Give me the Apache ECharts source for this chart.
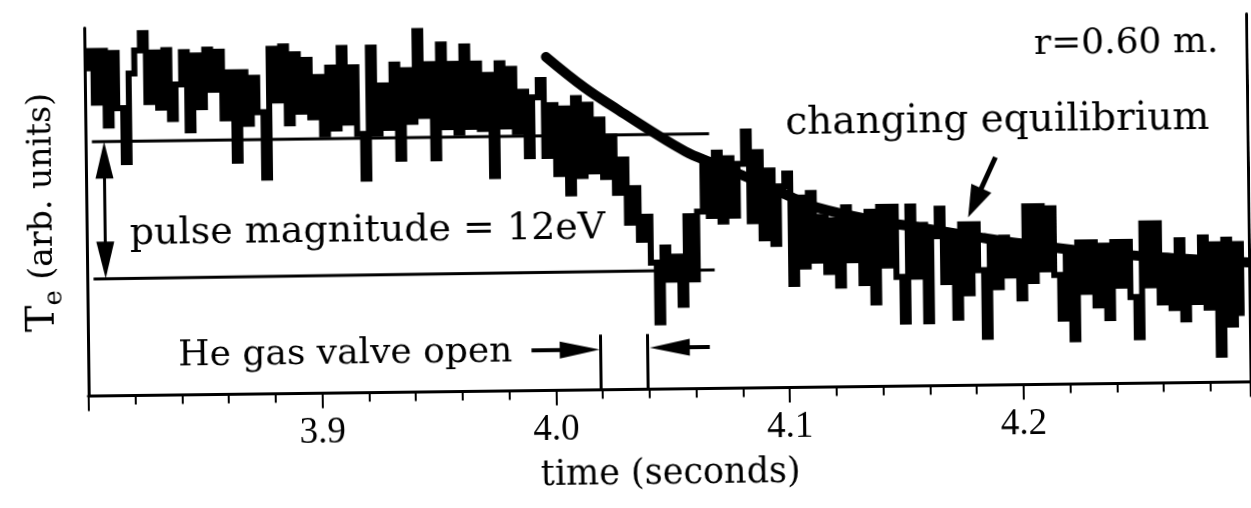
<!DOCTYPE html>
<html>
<head>
<meta charset="utf-8">
<title>Te pulse</title>
<script src="https://cdn.jsdelivr.net/npm/echarts@6/dist/echarts.min.js"></script>
<style>
  html, body { margin: 0; padding: 0; background: #fff; overflow: hidden; }
  /* the scan is tilted a little, so is the chart */
  #chart { width: 1251px; height: 508px; transform: rotate(-0.7deg); transform-origin: 625.5px 254px; }
</style>
</head>
<body>
<div id="chart"></div>
<script>
// sampling of the Te trace (s)
const T_START = 3.8
const T_STEP = 0.0025

// Te trace, one value per sample (eV, arb. offset)
const teTrace = [
  28.5, 30.0, 25.5, 30.0, 23.5, 29.8, 25.0, 20.3, 28.0, 30.0, 31.5, 25.5, 29.8, 25.0, 30.0, 24.0, 27.0, 29.8, 23.0, 29.5,
  25.0, 30.0, 26.5, 29.8, 24.0, 28.0, 20.3, 28.0, 23.5, 27.5, 24.5, 18.8, 30.0, 25.5, 30.2, 23.5, 29.5, 24.5, 29.0, 24.0,
  27.5, 22.5, 28.3, 23.0, 30.0, 23.5, 28.3, 22.5, 18.6, 30.0, 22.5, 26.7, 23.0, 28.5, 20.3, 28.0, 23.5, 31.4, 24.0, 28.5,
  20.3, 30.2, 23.0, 28.5, 22.5, 30.0, 23.0, 28.5, 22.8, 27.5, 18.7, 28.5, 23.0, 28.0, 22.5, 26.0, 20.4, 25.5, 27.0, 20.4,
  24.8, 18.8, 24.5, 17.1, 25.4, 18.6, 24.8, 19.0, 23.5, 18.5, 22.0, 17.1, 20.0, 14.5, 17.5, 13.0, 15.0, 11.0, 5.8, 12.3,
  9.5, 11.5, 7.3, 15.0, 9.5, 15.4, 19.5, 15.0, 20.5, 14.5, 20.0, 15.0, 19.5, 22.3, 14.5, 20.5, 13.0, 18.9, 12.5, 17.5,
  18.6, 9.0, 16.5, 10.5, 16.9, 11.0, 14.8, 10.0, 14.5, 8.8, 15.6, 11.0, 14.5, 9.0, 15.2, 7.3, 15.6, 10.5, 15.6, 9.5,
  5.6, 15.6, 9.5, 14.0, 5.6, 13.0, 15.4, 9.0, 13.0, 5.9, 14.0, 8.0, 14.0, 10.0, 4.2, 12.5, 8.5, 12.8, 9.5, 12.0,
  7.5, 15.5, 9.0, 15.5, 10.0, 15.3, 9.5, 5.7, 11.4, 3.9, 12.3, 8.0, 12.3, 6.8, 12.0, 5.7, 12.3, 8.5, 12.3, 7.5,
  4.0, 13.9, 8.5, 13.9, 7.0, 10.9, 6.5, 12.4, 5.5, 10.5, 7.0, 12.6, 6.5, 12.0, 2.4, 12.4, 5.0, 12.0, 6.0
]

// "changing equilibrium" curve
const fitTime = [3.9974, 4.0137, 4.0282, 4.0424, 4.0565, 4.0668, 4.0831, 4.0980, 4.1130, 4.1408, 4.1558, 4.1836, 4.1986, 4.2328, 4.2670, 4.2966]
const fitTe = [29.0, 26.3, 24.3, 22.4, 20.65, 19.7, 18.3, 16.9, 15.6, 14.3, 13.8, 12.8, 12.3, 11.4, 10.8, 10.4]

// annotation segments [t1, te1, t2, te2]
const guideLines = [
  [3.8027, 22.1, 4.0668, 22.15],   // level before the pulse
  [3.8027, 10.17, 4.0685, 10.3],   // bottom of the pulse
  [4.0193, 4.8, 4.0193, 0],        // valve open
  [4.0394, 4.8, 4.0394, 0]         // valve closed
]
const pulseArrow = [[3.8079, 10.2, 3.8079, 22.1]]
const valveArrows = [
  [3.9897, 3.5, 4.0189, 3.5],
  [4.0660, 3.6, 4.0403, 3.6]
]
const equilibriumArrow = [[4.1892, 19.8, 4.1772, 14.6]]

const tickLabels = ['3.9', '4.0', '4.1', '4.2']

const FONT = 'DejaVu Serif'
const TICK_FONT = 'Liberation Serif'
const INK = '#000'

const traceData = teTrace.map((v, i) => [T_START + i * T_STEP, v])
const fitData = fitTime.map((t, i) => [t, fitTe[i]])

function arrowSeries(data, opt) {
  return {
    type: 'custom',
    coordinateSystem: 'cartesian2d',
    data: data,
    z: 5,
    silent: true,
    renderItem: (params, api) => {
      const p1 = api.coord([api.value(0), api.value(1)])
      const p2 = api.coord([api.value(2), api.value(3)])
      const children = []
      const dx = p2[0] - p1[0]
      const dy = p2[1] - p1[1]
      const len = Math.hypot(dx, dy) || 1
      const ux = dx / len
      const uy = dy / len
      const cut = opt.headLen ? opt.headLen * 0.6 : 0
      const a = opt.both ? [p1[0] + ux * cut, p1[1] + uy * cut] : p1
      const b = [p2[0] - ux * cut, p2[1] - uy * cut]
      children.push({
        type: 'line',
        shape: { x1: a[0], y1: a[1], x2: b[0], y2: b[1] },
        style: { stroke: INK, lineWidth: opt.lineWidth }
      })
      if (opt.headLen) {
        const heads = opt.both ? [[p2, 1], [p1, -1]] : [[p2, 1]]
        for (const [tip, s] of heads) {
          const bx = tip[0] - s * ux * opt.headLen
          const by = tip[1] - s * uy * opt.headLen
          const hw = opt.headWidth / 2
          children.push({
            type: 'polygon',
            shape: { points: [[tip[0], tip[1]], [bx - uy * hw, by + ux * hw], [bx + uy * hw, by - ux * hw]] },
            style: { fill: INK }
          })
        }
      }
      return { type: 'group', children }
    }
  }
}

function noteText(text, x, y, size, align) {
  return {
    type: 'text',
    x: x,
    y: y,
    z: 10,
    style: {
      text: text,
      fill: INK,
      font: size + 'px "' + FONT + '"',
      align: align || 'left',
      verticalAlign: 'middle'
    }
  }
}

const axisCommon = {
  type: 'value',
  min: 3.8,
  max: 4.2972,
  interval: 0.1,
  splitLine: { show: false },
  axisLine: { show: true, lineStyle: { color: INK, width: 3 } }
}

const option = {
  animation: false,
  backgroundColor: '#fff',
  grid: { left: 87, top: 21.5, width: 1162, height: 368, outerBoundsMode: 'none' },
  xAxis: [
    {
      ...axisCommon,
      position: 'bottom',
      axisTick: { show: true, length: 15, lineStyle: { color: INK, width: 2 } },
      minorTick: { show: true, splitNumber: 5, length: 9, lineStyle: { color: INK, width: 2 } },
      axisLabel: {
        color: INK,
        fontFamily: TICK_FONT,
        fontSize: 37,
        margin: 21,
        formatter: (v) => {
          const s = v.toFixed(1)
          return tickLabels.includes(s) && Math.abs(v - Number(s)) < 1e-6 ? s : ''
        }
      },
      name: 'time (seconds)',
      nameLocation: 'middle',
      nameGap: 68,
      nameTextStyle: { color: INK, fontFamily: FONT, fontSize: 35 }
    },
    {
      ...axisCommon,
      position: 'top',
      axisTick: { show: true, inside: true, length: 12, lineStyle: { color: INK, width: 2 } },
      minorTick: { show: true, splitNumber: 5, length: 7, lineStyle: { color: INK, width: 2 } },
      axisLabel: { show: false }
    }
  ],
  yAxis: [
    {
      type: 'value',
      min: 0,
      max: 32,
      position: 'left',
      splitLine: { show: false },
      axisTick: { show: false },
      axisLabel: { show: false },
      axisLine: { show: true, lineStyle: { color: INK, width: 3 } },
      name: '{t|T}{s|e} (arb. units)',
      nameLocation: 'middle',
      nameGap: 20,
      nameTextStyle: {
        color: INK,
        fontFamily: FONT,
        fontSize: 33,
        rich: {
          t: { fontFamily: FONT, fontSize: 40, color: INK, lineHeight: 48, verticalAlign: 'middle' },
          s: { fontFamily: FONT, fontSize: 26, color: INK, lineHeight: 48, verticalAlign: 'bottom' }
        }
      }
    },
    {
      type: 'value',
      min: 0,
      max: 32,
      position: 'right',
      splitLine: { show: false },
      axisTick: { show: false },
      axisLabel: { show: false },
      axisLine: { show: true, lineStyle: { color: INK, width: 3 } }
    }
  ],
  series: [
    {
      name: 'Te',
      type: 'line',
      data: traceData,
      step: 'middle',
      showSymbol: false,
      symbol: 'none',
      lineStyle: { color: INK, width: 6, join: 'miter' },
      z: 2,
      silent: true
    },
    {
      name: 'equilibrium',
      type: 'line',
      data: fitData,
      smooth: 0.4,
      showSymbol: false,
      symbol: 'none',
      lineStyle: { color: INK, width: 10, cap: 'round' },
      z: 3,
      silent: true
    },
    arrowSeries(guideLines, { lineWidth: 3, headLen: 0 }),
    arrowSeries(pulseArrow, { lineWidth: 3, headLen: 37, headWidth: 18, both: true }),
    arrowSeries(valveArrows, { lineWidth: 4, headLen: 40, headWidth: 17 }),
    arrowSeries(equilibriumArrow, { lineWidth: 5, headLen: 32, headWidth: 22 })
  ],
  graphic: [
    noteText('r=0.60 m.', 1221, 50, 36, 'right'),
    noteText('changing equilibrium', 787, 126, 39),
    noteText('pulse magnitude = 12eV', 130, 228, 38),
    noteText('He gas valve open', 177, 351, 36)
  ]
}

const chart = echarts.init(document.getElementById('chart'))
chart.setOption(option)
</script>
</body>
</html>
